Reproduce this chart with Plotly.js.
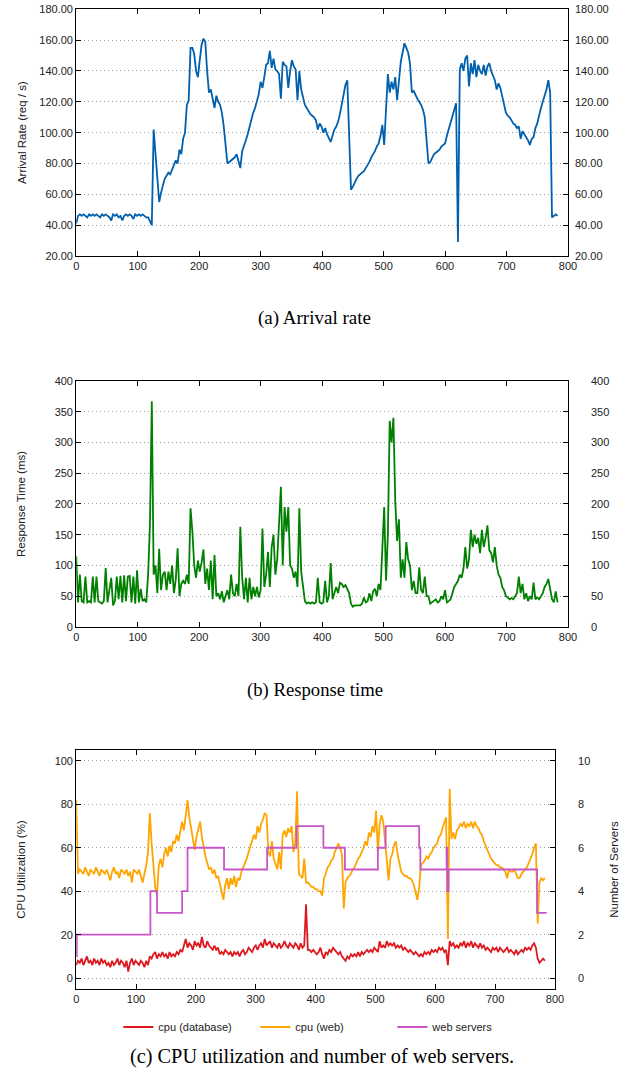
<!DOCTYPE html>
<html><head><meta charset="utf-8">
<script src="https://cdn.plot.ly/plotly-3.0.1.min.js"></script>
<style>html,body{margin:0;padding:0;background:#fff}#chart{width:623px;height:1071px}</style>
</head><body><div id="chart"></div>
<script>
// sampling of the time series (seconds)
const sampleStart = 0;
const sampleStep = 3;

// (a) arrival rate, req/s
const arrivalRate = [
 41,46,47,46,47,46,45,47,46,47,
 46,47,46,45,47,46,47,46,45,43,
 47,46,47,45,46,43,46,47,46,47,
 46,44,47,46,47,46,47,46,45,45,
 42,40,102,86,68,55,61,66,70,72,
 74,73,76,79,82,80,89,86,96,100,
 118,121,155,155,151,140,136,147,157,161,
 159,140,126,128,121,116,124,120,118,113,
 104,89,80,81,82,83,84,86,81,77,
 88,91,95,99,104,108,113,116,121,125,
 133,129,136,144,145,153,142,148,141,140,
 138,122,146,144,143,129,140,147,143,141,
 121,140,128,122,118,116,114,112,111,110,
 108,102,106,104,100,103,99,96,94,98,
 102,104,107,112,118,126,131,134,90,63,
 65,68,70,72,73,74,75,77,79,81,
 84,86,88,91,93,98,105,92,120,138,
 126,133,128,136,121,135,146,152,158,155,
 152,145,126,127,124,122,120,118,115,110,
 95,80,81,84,86,87,88,89,91,92,
 93,98,102,106,110,114,119,29,141,145,
 140,148,150,130,145,138,147,136,144,140,
 138,144,137,143,145,140,137,134,128,132,
 129,124,117,113,111,110,108,106,105,103,
 104,96,101,99,97,95,92,96,97,103,
 106,112,116,120,124,128,134,126,45,46,
 47,46
];

// (b) response time, ms
const responseTime = [
 115,40,85,42,40,82,40,42,40,82,
 40,82,42,40,38,42,96,40,58,80,
 35,42,82,45,83,40,84,42,82,83,
 40,82,38,92,40,62,42,45,40,85,
 167,367,85,100,55,127,60,85,90,60,
 90,70,100,55,77,128,50,70,75,70,
 85,70,193,155,100,80,108,90,105,126,
 70,95,60,108,45,117,50,55,45,58,
 40,50,60,45,85,55,50,70,50,163,
 80,45,80,40,80,45,65,50,65,48,
 60,160,65,85,122,65,130,150,85,110,
 175,228,100,195,155,195,100,95,80,90,
 65,193,90,60,42,38,40,38,40,38,
 40,80,40,38,40,75,40,50,104,45,
 55,65,55,72,70,65,68,60,55,38,
 33,35,35,36,35,38,48,40,42,55,
 42,58,62,50,70,60,120,195,75,150,
 335,300,340,205,140,175,80,110,80,138,
 110,100,60,75,55,55,97,60,55,82,
 50,50,38,40,42,45,40,42,50,45,
 60,40,42,45,55,65,70,75,85,80,
 95,130,95,110,158,130,150,135,145,120,
 158,130,145,165,125,120,105,130,100,85,
 80,65,60,50,48,45,47,45,50,55,
 82,55,70,45,55,42,50,45,72,45,
 48,45,50,55,65,70,78,60,45,40,
 58,40
];

// (c) CPU utilization of the database, %
const cpuDatabase = [
 6,8,7,9,6,8,10,7,8,6,
 9,7,8,6,9,7,8,6,7,5,
 8,6,7,9,6,8,7,5,8,3,
 7,9,6,8,7,6,8,7,5,8,
 6,10,9,11,12,9,11,10,12,10,
 11,9,12,10,11,10,12,11,13,12,
 15,18,14,16,15,13,17,15,16,14,
 19,15,14,17,15,14,13,15,13,14,
 11,12,11,13,12,11,12,10,12,11,
 12,10,12,13,11,12,14,13,12,14,
 15,13,15,16,14,18,15,16,17,14,
 16,15,14,16,14,15,17,15,14,16,
 15,14,16,15,13,16,14,15,34,13,
 13,12,13,12,11,12,14,11,9,12,
 11,13,12,14,13,12,11,12,10,9,
 8,10,9,11,10,11,10,12,10,12,
 11,12,13,12,13,12,14,13,12,17,
 14,15,14,17,15,16,15,16,14,15,
 14,15,13,14,13,12,13,12,11,12,
 11,10,11,10,12,11,12,11,13,12,
 13,12,14,13,14,12,13,6,17,15,
 16,14,15,14,16,15,17,14,16,15,
 17,14,16,15,14,16,14,15,13,14,
 13,12,14,13,14,12,14,13,12,13,
 14,12,13,12,11,13,11,12,13,12,
 14,13,14,13,15,16,14,9,7,8,
 9,8
];

// (c) CPU utilization of the web tier, %
const cpuWeb = [
 82,48,50,49,48,51,49,47,50,49,
 48,51,49,47,50,49,48,50,47,45,
 49,51,48,49,46,50,49,48,50,47,
 49,44,50,49,48,50,47,44,48,52,
 58,76,62,52,42,38,52,55,51,57,
 60,56,61,58,63,62,66,63,68,72,
 68,75,82,74,69,66,59,65,68,72,
 65,60,56,53,50,51,48,50,46,47,
 43,40,36,43,46,41,46,43,47,42,
 46,45,49,51,53,55,58,61,64,66,
 64,70,67,71,73,76,75,58,56,63,
 55,52,50,58,50,66,68,65,69,67,
 70,58,62,86,48,47,46,55,44,44,
 43,42,42,41,41,40,40,38,46,48,
 51,52,54,55,58,60,62,60,57,32,
 44,46,47,48,50,51,53,55,56,58,
 60,63,61,67,65,70,67,77,58,71,
 75,72,62,52,45,55,57,61,63,57,
 53,49,48,47,47,46,46,45,43,40,
 36,42,52,53,54,56,55,57,58,60,
 61,62,65,66,69,72,74,18,87,64,
 67,64,68,69,71,70,72,69,71,70,
 72,69,72,70,69,67,66,63,61,59,
 57,55,54,53,52,52,51,51,50,49,
 46,50,49,49,50,48,46,46,48,49,
 50,51,53,55,57,60,62,25,44,46,
 45,46
];

// (c) number of web servers (step changes)
const serverTimes  = [0, 1, 124, 135, 177, 186, 247, 319, 368, 413, 449, 504, 517, 573, 575, 619, 620, 622, 770, 786];
const serverCounts = [1, 2, 4,   3,   4,   6,   5,   6,   7,   6,   5,   6,   7,   6,   5,   6,   4,   5,   3,   3];

const sans = 'Liberation Sans, Arial, Helvetica, sans-serif';
const serif = 'Liberation Serif, Times New Roman, serif';
const tickFont = {family: sans, size: 11, color: '#222'};
const titleFont = {family: sans, size: 11.5, color: '#222'};

const traces = [
  {type:'scatter', mode:'lines', x0:sampleStart, dx:sampleStep, y:arrivalRate,
   xaxis:'x', yaxis:'y', line:{color:'#0060ad', width:1.8}, showlegend:false, name:'arrival rate'},
  // empty companion trace so the mirrored right-hand axis is drawn
  {type:'scatter', mode:'lines', x:[], y:[], xaxis:'x', yaxis:'y2', showlegend:false, hoverinfo:'skip'},
  {type:'scatter', mode:'lines', x0:sampleStart, dx:sampleStep, y:responseTime,
   xaxis:'x2', yaxis:'y3', line:{color:'#008000', width:1.8}, showlegend:false, name:'response time'},
  {type:'scatter', mode:'lines', x:[], y:[], xaxis:'x2', yaxis:'y4', showlegend:false, hoverinfo:'skip'},
  {type:'scatter', mode:'lines', x0:sampleStart, dx:sampleStep, y:cpuDatabase,
   xaxis:'x3', yaxis:'y5', line:{color:'#dd181f', width:1.8}, name:'cpu (database)'},
  {type:'scatter', mode:'lines', x0:sampleStart, dx:sampleStep, y:cpuWeb,
   xaxis:'x3', yaxis:'y5', line:{color:'#ffa500', width:1.8}, name:'cpu (web)'},
  {type:'scatter', mode:'lines', x:serverTimes, y:serverCounts,
   xaxis:'x3', yaxis:'y6', line:{color:'#c856c8', width:1.8, shape:'hv'}, name:'web servers'}
];

function xAxis(domain, anchor) {
  return {domain: domain, anchor: anchor, range:[0,800], dtick:100, tick0:0,
    ticks:'inside', ticklen:5, tickcolor:'#000', showline:true, linecolor:'#000', linewidth:1,
    mirror:'ticks', showgrid:false, zeroline:false, tickfont:tickFont, fixedrange:true};
}
function yLeft(domain, anchor, range, dtick, fmt, title, standoff) {
  return {domain: domain, anchor: anchor, range: range, dtick: dtick, tick0: 0,
    tickformat: fmt, ticks:'inside', ticklen:5, tickcolor:'#000', showline:true,
    linecolor:'#000', linewidth:1, mirror:true, showgrid:true, gridcolor:'#9a9a9a',
    griddash:'1px,3px', gridwidth:1, zeroline:false, tickfont:tickFont,
    title:{text:title, font:titleFont, standoff:standoff}, fixedrange:true};
}
function yRight(over, anchor, range, dtick, fmt, labelGap, title, standoff) {
  const ax = {overlaying: over, side:'right', anchor: anchor, range: range, dtick: dtick, tick0: 0,
    tickformat: fmt, ticks:'inside', ticklen:5, tickcolor:'#000', showline:false,
    showgrid:false, zeroline:false, tickfont:tickFont, ticklabelstandoff: labelGap, fixedrange:true};
  if (title) ax.title = {text:title, font:titleFont, standoff:standoff};
  return ax;
}

const layout = {
  width:623, height:1071,
  margin:{l:0, r:0, t:0, b:0},
  paper_bgcolor:'#fff', plot_bgcolor:'#fff',
  font:{family:sans, size:11, color:'#222'},
  xaxis:  xAxis([0.1223, 0.9117], 'y'),
  yaxis:  yLeft([0.7610, 0.9913], 'x', [20,180], 20, '.2f', 'Arrival Rate (req / s)', 10),
  yaxis2: yRight('y', 'x', [20,180], 20, '.2f', 6),
  xaxis2: xAxis([0.1223, 0.9117], 'y3'),
  yaxis3: yLeft([0.4146, 0.6443], 'x2', [0,400], 50, 'd', 'Response Time (ms)', 26),
  yaxis4: yRight('y3', 'x2', [0,400], 50, 'd', 22),
  xaxis3: xAxis([0.1223, 0.8909], 'y5'),
  yaxis5: yLeft([0.0766, 0.2997], 'x3', [-5,105], 20, 'd', 'CPU Utilization (%)', 26),
  yaxis6: yRight('y5', 'x3', [-0.5,10.5], 2, 'd', 22, 'Number of Servers', 20),
  showlegend:true,
  legend:{orientation:'h', x:0.19, xanchor:'left', y:0.0411, yanchor:'middle',
    font:{family:sans, size:11, color:'#222'}, entrywidth:92, itemwidth:30,
    bgcolor:'rgba(0,0,0,0)', traceorder:'normal'},
  annotations:[
    {text:'(a) Arrival rate', xref:'paper', yref:'paper', x:0.505, y:0.7031, yanchor:'middle',
     showarrow:false, font:{family:serif, size:19, color:'#000'}},
    {text:'(b) Response time', xref:'paper', yref:'paper', x:0.506, y:0.3557, yanchor:'middle',
     showarrow:false, font:{family:serif, size:18.7, color:'#000'}},
    {text:'(c) CPU utilization and number of web servers.', xref:'paper', yref:'paper', x:0.517, y:0.0131, yanchor:'middle',
     showarrow:false, font:{family:serif, size:20.3, color:'#000'}}
  ]
};

Plotly.newPlot('chart', traces, layout, {staticPlot:true, displayModeBar:false});
</script>
</body></html>
